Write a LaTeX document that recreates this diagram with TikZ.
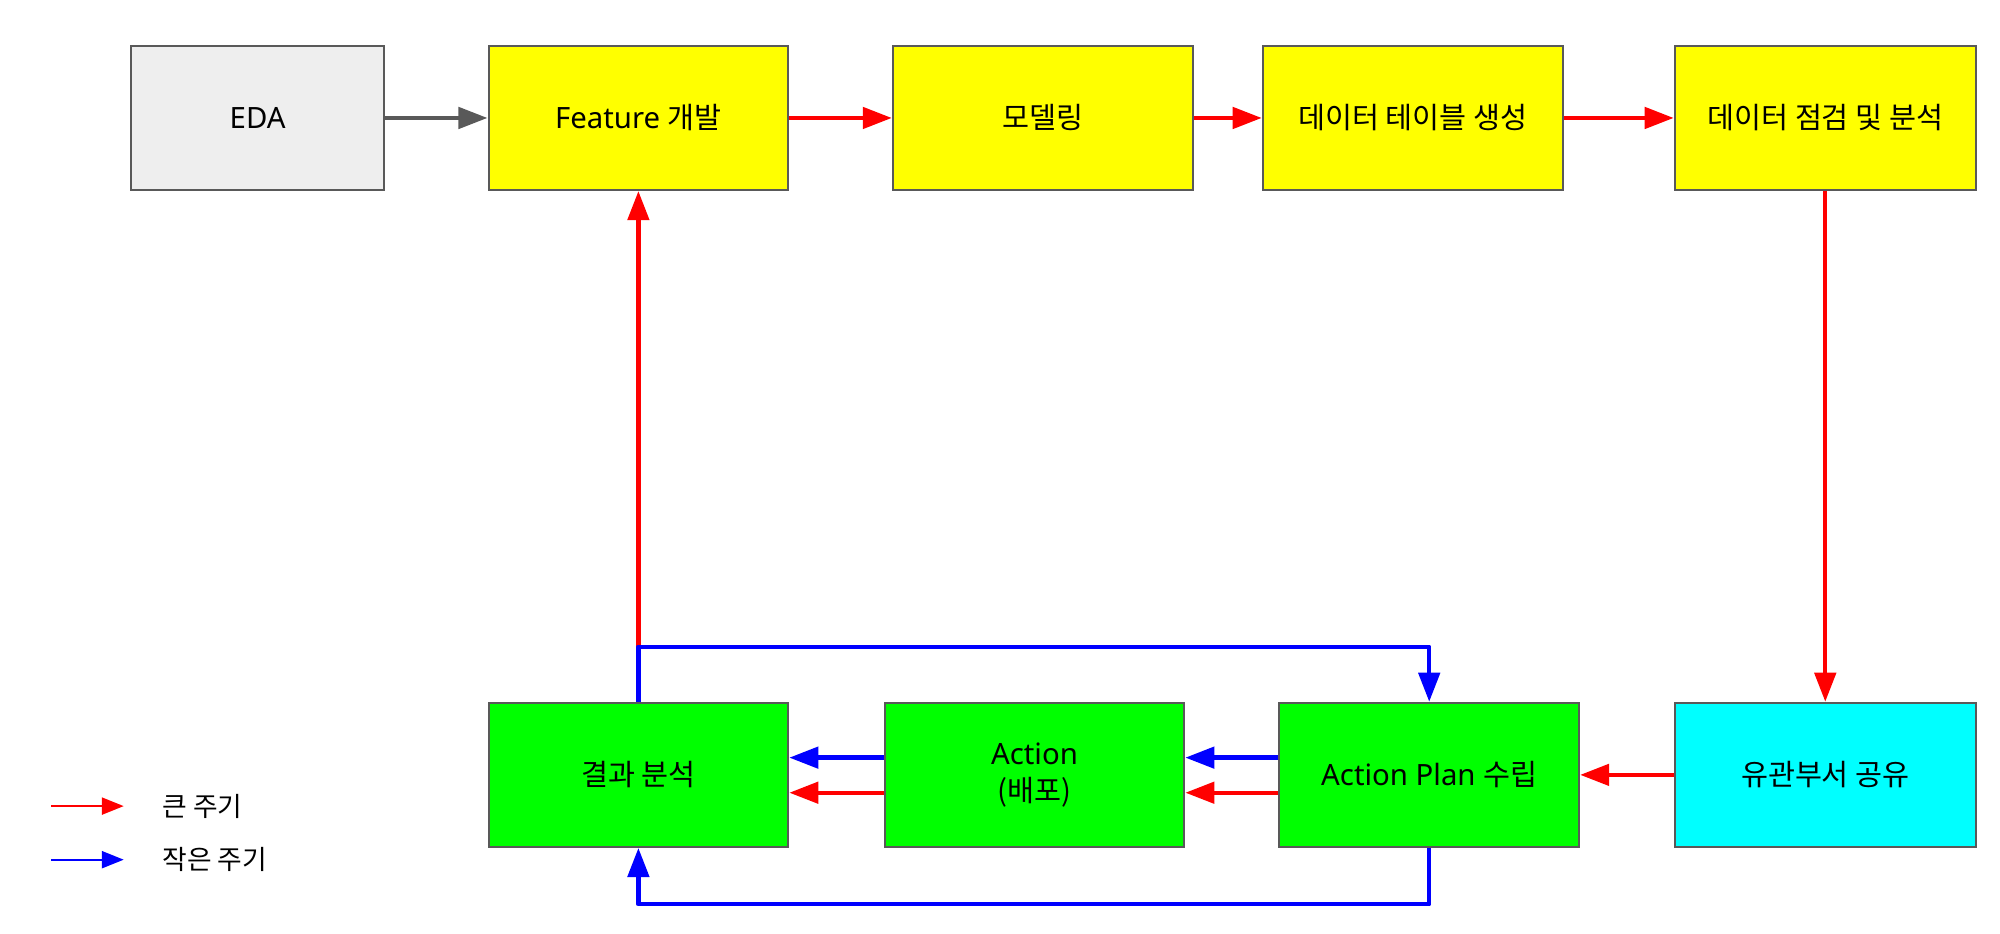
\documentclass[tikz,border=0pt]{standalone}
\usepackage{fontspec}
\setmainfont{Noto Sans}
\newfontfamily\kr{Noto Sans CJK KR}
\usetikzlibrary{arrows.meta,calc}
\definecolor{bordergray}{HTML}{595959}
\definecolor{edagray}{HTML}{EEEEEE}
\definecolor{cyellow}{HTML}{FFFF00}
\definecolor{cgreen}{HTML}{00FF00}
\definecolor{ccyan}{HTML}{00FFFF}
\definecolor{cred}{HTML}{FF0000}
\definecolor{cblue}{HTML}{0000FF}
\tikzset{
  box/.style={draw=bordergray, line width=0.8pt, minimum width=117.5pt, minimum height=56.5pt,
    inner sep=0pt, align=center, font=\fontsize{11.5pt}{14.5pt}\selectfont},
  conn/.style={line width=1.7pt, -{Triangle[length=11.4pt,width=8.3pt]}},
  redconn/.style={conn, draw=cred},
  blueconn/.style={conn, draw=cblue},
  grayconn/.style={conn, draw=bordergray},
  legline/.style={line width=0.8pt, -{Triangle[length=8.6pt,width=6.7pt]}},
  legtext/.style={anchor=west, inner sep=0pt, font=\kr\fontsize{10.5pt}{13pt}\selectfont}
}
\begin{document}
\begin{tikzpicture}[x=0.5pt,y=0.5pt]
\useasboundingbox (0,0) rectangle (1568,732);
% top row
\node[box, fill=edagray, minimum width=99pt] (eda) at (202,639.5) {EDA};
\node[box, fill=cyellow] (feat) at (500.5,639.5) {Feature {\kr 개발}};
\node[box, fill=cyellow] (model) at (817.5,639.5) {\kr 모델링};
\node[box, fill=cyellow] (table) at (1107.5,639.5) {\kr 데이터 테이블 생성};
\node[box, fill=cyellow, minimum width=118pt] (check) at (1431,639.5) {\kr 데이터 점검 및 분석};
% bottom row
\node[box, fill=cgreen] (res) at (500.5,124.5) {\kr 결과 분석};
\node[box, fill=cgreen] (act) at (811,124.5) {Action\\{\kr (배포)}};
\node[box, fill=cgreen] (plan) at (1120.5,124.5) {Action Plan {\kr 수립}};
\node[box, fill=ccyan, minimum width=118pt] (share) at (1431,124.5) {\kr 유관부서 공유};
% connectors
\draw[grayconn] (eda) -- (feat);
\draw[redconn] (feat) -- (model);
\draw[redconn] (model) -- (table);
\draw[redconn] (table) -- (check);
\draw[redconn] (check) -- (share);
\draw[redconn] (share) -- (plan);
\draw[blueconn] ([yshift=6.75pt]plan.west) -- ([yshift=6.75pt]act.east);
\draw[redconn] ([yshift=-7pt]plan.west) -- ([yshift=-7pt]act.east);
\draw[blueconn] ([yshift=6.75pt]act.west) -- ([yshift=6.75pt]res.east);
\draw[redconn] ([yshift=-7pt]act.west) -- ([yshift=-7pt]res.east);
\draw[redconn] (res.north) -- (feat.south);
\coordinate (topy) at (0,225);
\coordinate (boty) at (0,23);
\draw[blueconn, line join=round] (res.north) -- (res.north |- topy) -| (plan.north);
\draw[blueconn, line join=round] (plan.south) -- (plan.south |- boty) -| (res.south);
% legend
\coordinate (l1a) at (40,100);
\coordinate (l1b) at (97,100);
\coordinate (l2a) at (40,58);
\coordinate (l2b) at (97,58);
\draw[legline, draw=cred] (l1a) -- (l1b);
\draw[legline, draw=cblue] (l2a) -- (l2b);
\node[legtext] (leg1) at (127,100) {큰 주기};
\node[legtext] (leg2) at (127,58) {작은 주기};
\end{tikzpicture}
\end{document}
